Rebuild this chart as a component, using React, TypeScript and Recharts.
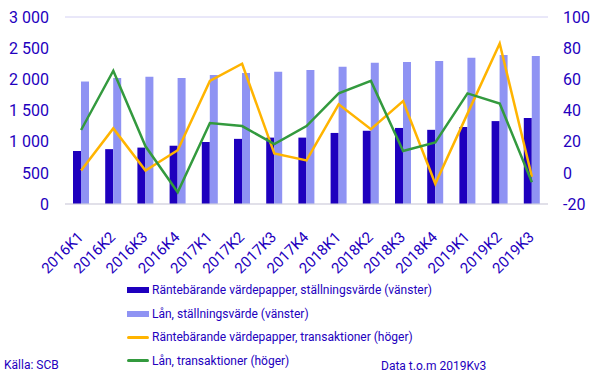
import { ComposedChart, Bar, Line, XAxis, YAxis, CartesianGrid } from 'recharts';

const quarters = [
  '2016K1', '2016K2', '2016K3', '2016K4', '2017K1', '2017K2', '2017K3', '2017K4',
  '2018K1', '2018K2', '2018K3', '2018K4', '2019K1', '2019K2', '2019K3',
];

// vänster axel (ställningsvärde)
const rantebarandeStallning = [850, 880, 905, 935, 995, 1045, 1065, 1065, 1140, 1175, 1220, 1190, 1235, 1330, 1380];
const lanStallning = [1965, 2020, 2040, 2020, 2070, 2100, 2120, 2150, 2200, 2265, 2280, 2295, 2345, 2390, 2375];

// höger axel (transaktioner)
const rantebarandeTrans = [1.5, 28.5, 1.5, 14.5, 59, 70, 12.5, 8, 44, 28, 46, -7, 38, 83, -2.5];
const lanTrans = [27.5, 65.5, 17, -12.5, 32, 30, 18.5, 30, 51, 59, 14, 19.5, 51, 44.5, -6];

const leftTicks = [0, 500, 1000, 1500, 2000, 2500, 3000];
const rightTicks = [-20, 0, 20, 40, 60, 80, 100];

const DARK = '#1E00BE';
const LIGHT = '#8F93F3';
const ORANGE = '#FFB400';
const GREEN = '#339A3E';
const TEXT = '#2300BE';
const FONT = 'Roboto, sans-serif';

const data = quarters.map((q, i) => ({
  q,
  rs: rantebarandeStallning[i],
  ls: lanStallning[i],
  rt: rantebarandeTrans[i],
  lt: lanTrans[i],
}));

const legendItems = [
  { label: 'Räntebärande värdepapper, ställningsvärde (vänster)', color: DARK, bar: true },
  { label: 'Lån, ställningsvärde (vänster)', color: LIGHT, bar: true },
  { label: 'Räntebärande värdepapper, transaktioner (höger)', color: ORANGE, bar: false },
  { label: 'Lån, transaktioner (höger)', color: GREEN, bar: false },
];

function QuarterTick({ x, y, payload }: any) {
  return (
    <text
      transform={`translate(${x + 3}, ${y + 26}) rotate(-45)`}
      textAnchor="end"
      fontSize={15}
      fontFamily={FONT}
      fill={TEXT}
    >
      {payload.value}
    </text>
  );
}

const fmtLeft = (v: number) => v.toLocaleString('sv-SE').replace(/\u00a0/g, ' ');

export default function App() {
  return (
    <div style={{ position: 'absolute', left: 0, top: 0, width: 599, height: 379, background: '#fff', fontFamily: FONT }}>
      <ComposedChart
        width={599}
        height={379}
        data={data}
        margin={{ top: 17, right: 0, left: 0, bottom: 115 }}
        barGap={0}
      >
        <CartesianGrid vertical={false} stroke="#D3D0F3" strokeWidth={1} />
        <XAxis
          dataKey="q"
          interval={0}
          height={60}
          tickLine={false}
          axisLine={{ stroke: '#D9D9D9', strokeWidth: 1 }}
          tick={<QuarterTick />}
        />
        <YAxis
          yAxisId="left"
          domain={[0, 3000]}
          ticks={leftTicks}
          width={65}
          axisLine={false}
          tickLine={false}
          tickFormatter={fmtLeft}
          tick={{ fontSize: 16, fill: TEXT, fontFamily: FONT }}
          tickMargin={10}
        />
        <YAxis
          yAxisId="right"
          orientation="right"
          domain={[-20, 100]}
          ticks={rightTicks}
          width={51}
          axisLine={false}
          tickLine={false}
          tick={{ fontSize: 16, fill: TEXT, fontFamily: FONT, textAnchor: 'start' }}
          tickMargin={9}
        />
        <Bar yAxisId="left" dataKey="rs" fill={DARK} barSize={8} isAnimationActive={false} />
        <Bar yAxisId="left" dataKey="ls" fill={LIGHT} barSize={8} isAnimationActive={false} />
        <Line yAxisId="right" dataKey="rt" stroke={ORANGE} strokeWidth={2.5} dot={false} isAnimationActive={false} />
        <Line yAxisId="right" dataKey="lt" stroke={GREEN} strokeWidth={2.5} dot={false} isAnimationActive={false} />
      </ComposedChart>
      <div style={{ position: 'absolute', left: 127, top: 278, fontSize: 12, color: TEXT }}>
        {legendItems.map((it) => (
          <div key={it.label} style={{ display: 'flex', alignItems: 'center', height: 23.7 }}>
            <span
              style={{
                display: 'inline-block',
                width: 22,
                height: it.bar ? 6 : 3,
                borderRadius: it.bar ? 0 : 2,
                background: it.color,
                marginRight: 3,
              }}
            />
            <span>{it.label}</span>
          </div>
        ))}
      </div>
      <div style={{ position: 'absolute', left: 4, top: 358, fontSize: 12, color: TEXT }}>Källa: SCB</div>
      <div style={{ position: 'absolute', left: 381, top: 359, fontSize: 12, color: TEXT }}>Data t.o.m 2019Kv3</div>
    </div>
  );
}
